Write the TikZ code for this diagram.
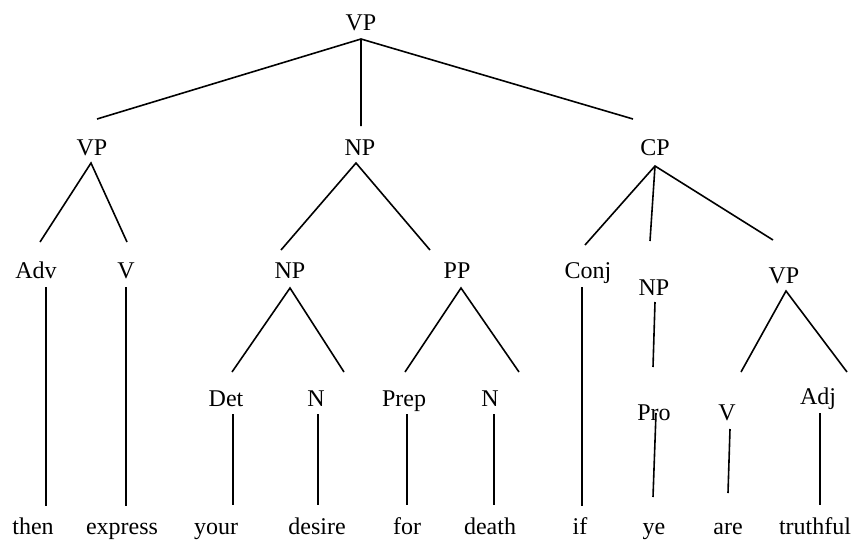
\documentclass[tikz,border=0pt]{standalone}
\usepackage{fontspec}
\setmainfont{Liberation Serif}
\begin{document}
\begin{tikzpicture}[x=1pt,y=-1pt,
  cat/.style={inner sep=0pt,anchor=base,font=\fontsize{24}{28}\selectfont},
  word/.style={inner sep=0pt,anchor=base,font=\fontsize{24}{28}\selectfont},
  branch/.style={line width=1.6pt,black}]
\useasboundingbox (0,0) rectangle (859,552);

% category labels
\node[cat] (vp0) at (361,30) {VP};
\node[cat] (vp1) at (92,155) {VP};
\node[cat] (np1) at (360,155) {NP};
\node[cat] (cp)  at (655,155) {CP};
\node[cat] (adv) at (36,278) {Adv};
\node[cat] (v1)  at (126,278) {V};
\node[cat] (np2) at (290,278) {NP};
\node[cat] (pp)  at (457,278) {PP};
\node[cat] (conj) at (588,278) {Conj};
\node[cat] (np3) at (654,295) {NP};
\node[cat] (vp2) at (784,283) {VP};
\node[cat] (det) at (226,406) {Det};
\node[cat] (n1)  at (316,406) {N};
\node[cat] (prep) at (404,406) {Prep};
\node[cat] (n2)  at (490,406) {N};
\node[cat] (pro) at (654,420) {Pro};
\node[cat] (v2)  at (727,420) {V};
\node[cat] (adj) at (818,404) {Adj};

% words
\node[word] (w1)  at (33,534) {then};
\node[word] (w2)  at (122,534) {express};
\node[word] (w3)  at (216,534) {your};
\node[word] (w4)  at (317,534) {desire};
\node[word] (w5)  at (407,534) {for};
\node[word] (w6)  at (490,534) {death};
\node[word] (w7)  at (580,534) {if};
\node[word] (w8)  at (654,534) {ye};
\node[word] (w9)  at (728,534) {are};
\node[word] (w10) at (815,534) {truthful};

% branch end points
\coordinate (a0) at (361,39);
\coordinate (e01) at (97,119);
\coordinate (e02) at (361,126);
\coordinate (e03) at (633,119);
\coordinate (a1) at (91,163);
\coordinate (e11) at (40,242);
\coordinate (e12) at (127,242);
\coordinate (a2) at (356,163);
\coordinate (e21) at (281,250);
\coordinate (e22) at (430,250);
\coordinate (a3) at (655,166);
\coordinate (e31) at (585,245);
\coordinate (e32) at (650,241);
\coordinate (e33) at (773,240);
\coordinate (a4) at (290,288);
\coordinate (e41) at (232,372);
\coordinate (e42) at (344,372);
\coordinate (a5) at (461,288);
\coordinate (e51) at (405,372);
\coordinate (e52) at (519,372);
\coordinate (a6) at (786,291);
\coordinate (e61) at (741,372);
\coordinate (e62) at (847,372);
% unary branch ends
\coordinate (t1) at (46,287);   \coordinate (b1) at (46,506);
\coordinate (t2) at (126,287);  \coordinate (b2) at (126,506);
\coordinate (t3) at (582,287);  \coordinate (b3) at (582,506);
\coordinate (t4) at (655,302);  \coordinate (b4) at (653,367);
\coordinate (t5) at (233,414);  \coordinate (b5) at (233,505);
\coordinate (t6) at (318,414);  \coordinate (b6) at (318,505);
\coordinate (t7) at (407,414);  \coordinate (b7) at (407,505);
\coordinate (t8) at (494,414);  \coordinate (b8) at (494,505);
\coordinate (t9) at (656,413);  \coordinate (b9) at (653,497);
\coordinate (t10) at (730,429); \coordinate (b10) at (728,493);
\coordinate (t11) at (820,413); \coordinate (b11) at (820,505);

\draw[branch] (e01) -- (a0) -- (e03) (a0) -- (e02);
\draw[branch] (e11) -- (a1) -- (e12);
\draw[branch] (e21) -- (a2) -- (e22);
\draw[branch] (e31) -- (a3) -- (e33) (a3) -- (e32);
\draw[branch] (e41) -- (a4) -- (e42);
\draw[branch] (e51) -- (a5) -- (e52);
\draw[branch] (e61) -- (a6) -- (e62);
\foreach \i in {1,...,11} \draw[branch] (t\i) -- (b\i);
\end{tikzpicture}
\end{document}
